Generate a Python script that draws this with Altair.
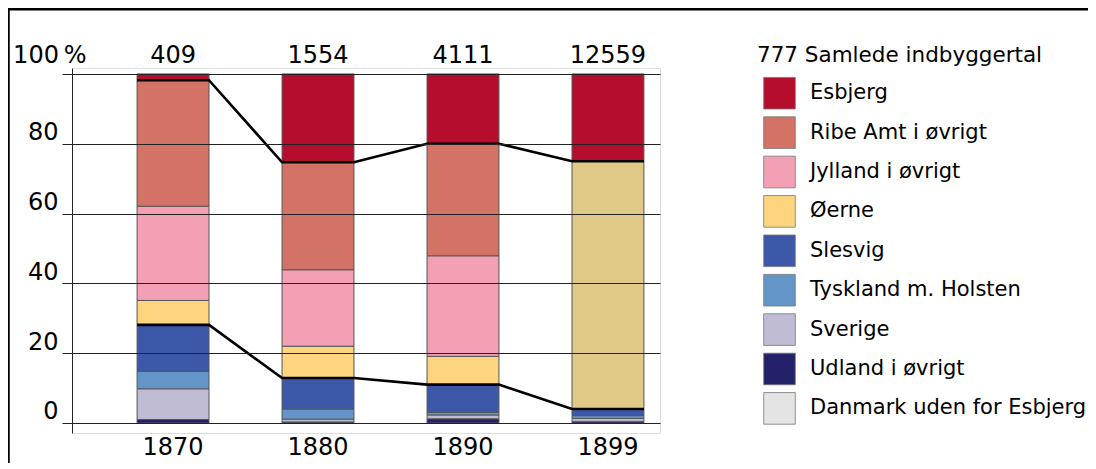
import altair as alt
import pandas as pd

# ---------------- data ----------------
years = ["1870", "1880", "1890", "1899"]
totals = ["409", "1554", "4111", "12559"]
legend_header = "777 Samlede indbyggertal"

categories = ["Esbjerg", "Ribe Amt i øvrigt", "Jylland i øvrigt", "Øerne",
              "Slesvig", "Tyskland m. Holsten", "Sverige", "Udland i øvrigt",
              "Danmark uden for Esbjerg"]
colors = ["#b50d2c", "#d37366", "#f3a0b5", "#fdd57f",
          "#3d58a8", "#6395c9", "#bfbcd3", "#23216a", "#e4e4e4"]
danmark_bar_color = "#e0c986"

esbjerg = [1.8, 25.3, 20.0, 25.0]
ribe = [36.1, 30.8, 32.1, 0.0]
jylland = [27.0, 21.9, 28.8, 0.0]
oerne = [7.0, 9.1, 8.1, 0.0]
danmark = [0.0, 0.0, 0.0, 71.0]
slesvig = [13.3, 8.9, 8.0, 1.9]
tyskland = [5.0, 2.9, 0.7, 0.8]
sverige = [8.8, 0.8, 1.1, 0.85]
udland = [1.0, 0.3, 1.2, 0.45]

# bottom -> top stacking order
stack = [("Udland i øvrigt", udland), ("Sverige", sverige),
         ("Tyskland m. Holsten", tyskland), ("Slesvig", slesvig),
         ("Danmark uden for Esbjerg", danmark), ("Øerne", oerne),
         ("Jylland i øvrigt", jylland), ("Ribe Amt i øvrigt", ribe),
         ("Esbjerg", esbjerg)]

HW = 0.248  # half bar width in x units
FONT = "DejaVu Sans"
NUM_SIZE = 24
LEG_SIZE = 21

rows = []
for i, yr in enumerate(years):
    cum = 0.0
    for cat, vals in stack:
        v = vals[i]
        if v > 0:
            rows.append({"year": yr, "cat": cat, "x0": i - HW, "x1": i + HW,
                         "y0": cum, "y1": cum + v})
        cum += v
bars_df = pd.DataFrame(rows)

line_rows = []
for i in range(len(years)):
    upper = 100 - esbjerg[i]
    lower = slesvig[i] + tyskland[i] + sverige[i] + udland[i]
    for k, xx in enumerate([i - HW, i + HW]):
        line_rows.append({"series": "upper", "x": xx, "v": upper, "o": 2 * i + k})
        line_rows.append({"series": "lower", "x": xx, "v": lower, "o": 2 * i + k})
lines_df = pd.DataFrame(line_rows)

counts_df = pd.DataFrame({"x": list(range(len(years))), "label": totals, "y": [105.2] * 4})
years_df = pd.DataFrame({"x": list(range(len(years))), "label": years, "y": [-7.2] * 4})
pct_df = pd.DataFrame({"x": [-0.85], "y": [105.2], "label": ["100\u2009%"]})
header_df = pd.DataFrame({"x": [4.028], "y": [105.2], "label": [legend_header]})

xscale = alt.Scale(domain=[-0.697, 3.359], nice=False, zero=False)
yscale = alt.Scale(domain=[-2.87, 101.7], nice=False, zero=False)

W, H = 588, 365

bars = alt.Chart(bars_df).mark_rect(stroke="#555555", strokeWidth=1).encode(
    x=alt.X("x0:Q", scale=xscale, axis=None),
    x2="x1",
    y=alt.Y("y0:Q", scale=yscale, title=None,
            axis=alt.Axis(values=[0, 20, 40, 60, 80, 100],
                          labelExpr="datum.value == 100 ? '' : datum.label",
                          labelFontSize=NUM_SIZE, labelFont=FONT, labelColor="black",
                          labelPadding=4, labelBaseline="alphabetic", labelOffset=-4,
                          labelFlush=False, labelOverlap=False,
                          tickSize=10, tickColor="#222222", tickWidth=1,
                          domainColor="#222222", domainWidth=1,
                          grid=True, gridColor="#222222", gridWidth=1,
                          gridOpacity=1, zindex=1)),
    y2="y1",
    color=alt.Color("cat:N",
                    scale=alt.Scale(domain=categories, range=colors),
                    condition={"test": "datum.cat === 'Danmark uden for Esbjerg'",
                               "value": danmark_bar_color},
                    legend=alt.Legend(title=None,
                                      values=categories,
                                      orient="none", legendX=691, legendY=8.7,
                                      padding=0,
                                      labelFontSize=LEG_SIZE, labelFont=FONT,
                                      labelColor="black", labelLimit=0,
                                      labelOffset=14,
                                      symbolType="square", symbolSize=1000,
                                      symbolOpacity=1, symbolStrokeColor="#777777",
                                      symbolStrokeWidth=0.8, rowPadding=4.4)),
)

lines = alt.Chart(lines_df).mark_line(color="black", strokeWidth=2.6).encode(
    x=alt.X("x:Q", scale=xscale, axis=None),
    y=alt.Y("v:Q", scale=yscale, title=None),
    detail="series:N",
    order="o:Q",
)

text_style = dict(fontSize=NUM_SIZE, font=FONT, color="black", baseline="middle")


def text_layer(df, **kw):
    style = dict(text_style)
    style.update(kw)
    return alt.Chart(df).mark_text(**style).encode(
        x=alt.X("x:Q", scale=xscale, axis=None),
        y=alt.Y("y:Q", scale=yscale, title=None),
        text="label:N",
    )


counts = text_layer(counts_df)
year_labels = text_layer(years_df)
pct = text_layer(pct_df)
header = text_layer(header_df, fontSize=21.5, align="left")

# decorative frame (top and left edges of the figure box)
frame_top = alt.Chart(pd.DataFrame({"a": [0]})).mark_rule(color="black", strokeWidth=3).encode(
    x=alt.value(-64), x2=alt.value(1016), y=alt.value(-59))
frame_left = alt.Chart(pd.DataFrame({"a": [0]})).mark_rule(color="black", strokeWidth=2.5).encode(
    x=alt.value(-63.5), y=alt.value(-60), y2=alt.value(H + 30))

chart = alt.layer(bars, lines, counts, year_labels, pct, header, frame_top, frame_left).properties(
    width=W, height=H,
    autosize=alt.AutoSizeParams(type="none"),
    padding={"left": 64, "top": 60, "right": 428, "bottom": 30},
).configure_view(stroke=None).configure(font=FONT)

chart.save("out.html", embed_options={"renderer": "svg", "actions": False})
